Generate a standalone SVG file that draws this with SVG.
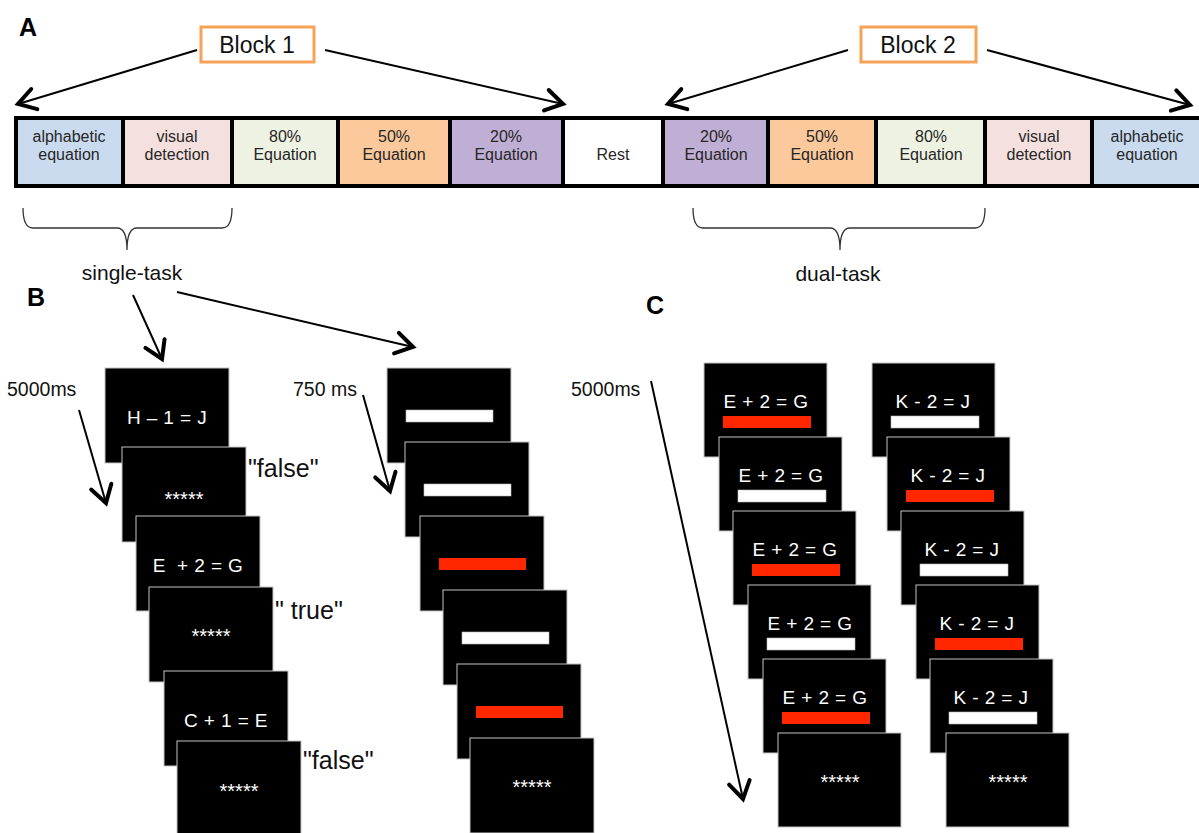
<svg xmlns="http://www.w3.org/2000/svg" width="1199" height="833" viewBox="0 0 1199 833">
  <style>
    text { font-family: "Liberation Sans", Arial, sans-serif; }
    .panel { font-size: 25px; font-weight: bold; fill: #000; }
    .cell { font-size: 16px; fill: #262626; text-anchor: middle; }
    .block { font-size: 23px; fill: #111; text-anchor: middle; }
    .lbl { font-size: 21px; fill: #111; text-anchor: middle; }
    .time { font-size: 19.5px; fill: #111; }
    .resp { font-size: 25px; fill: #111; }
    .scr { fill: #000; stroke: #c4c4c4; stroke-width: 1; }
    .eq { font-size: 19px; fill: #fff; text-anchor: middle; letter-spacing: 0.4px; }
    .stars { font-size: 20px; fill: #fff; text-anchor: middle; }
    .wbar { fill: #fff; stroke: #bbb; stroke-width: 0.6; }
    .rbar { fill: #ff2600; }
    .conn { stroke: #000; stroke-width: 2; fill: none; }
    .brace { stroke: #333; stroke-width: 1.3; fill: none; }
    .frame { stroke: #000; stroke-width: 4; fill: none; }
  </style>
  <defs>
    <marker id="arr" markerUnits="userSpaceOnUse" viewBox="-22 -15 26 30" refX="0" refY="0" markerWidth="26" markerHeight="30" orient="auto" overflow="visible">
      <path d="M-17,-10.5 L0,0 L-17,10.5" fill="none" stroke="#000" stroke-width="4" stroke-linecap="round" stroke-linejoin="miter"/>
    </marker>
  </defs>

  <rect width="1199" height="833" fill="#fff"/>

  <!-- panel letters -->
  <text class="panel" x="19" y="36">A</text>
  <text class="panel" x="27" y="306">B</text>
  <text class="panel" x="646" y="314">C</text>

  <!-- block labels -->
  <g id="block1">
    <rect x="201" y="27" width="113" height="35" fill="#fff" stroke="#f6a257" stroke-width="3"/>
    <text class="block" x="257" y="53">Block 1</text>
  </g>
  <g id="block2">
    <rect x="861" y="27" width="115" height="35" fill="#fff" stroke="#f6a257" stroke-width="3"/>
    <text class="block" x="918" y="53">Block 2</text>
  </g>

  <!-- session strip -->
  <g id="strip">
    <rect x="16" y="118" width="107" height="68" fill="#cadbf0"/>
    <rect x="123" y="118" width="109" height="68" fill="#f4e0df"/>
    <rect x="232" y="118" width="106" height="68" fill="#eef2e2"/>
    <rect x="338" y="118" width="112" height="68" fill="#fbc99b"/>
    <rect x="450" y="118" width="113" height="68" fill="#c0afd4"/>
    <rect x="563" y="118" width="100" height="68" fill="#fff"/>
    <rect x="663" y="118" width="105" height="68" fill="#c0afd4"/>
    <rect x="768" y="118" width="108" height="68" fill="#fbc99b"/>
    <rect x="876" y="118" width="109" height="68" fill="#eef2e2"/>
    <rect x="985" y="118" width="107" height="68" fill="#f4e0df"/>
    <rect x="1092" y="118" width="110" height="68" fill="#cadbf0"/>
    <rect class="frame" x="16" y="118" width="1200" height="68"/>
    <path class="frame" d="M123,118V186M232,118V186M338,118V186M450,118V186M563,118V186M663,118V186M768,118V186M876,118V186M985,118V186M1092,118V186"/>
  </g>
  <g id="cell-alpha-1"><text class="cell" x="69" y="142">alphabetic</text><text class="cell" x="69" y="160">equation</text></g>
  <g id="cell-visual-1"><text class="cell" x="177" y="142">visual</text><text class="cell" x="177" y="160">detection</text></g>
  <g id="cell-80-1"><text class="cell" x="285" y="142">80%</text><text class="cell" x="285" y="160">Equation</text></g>
  <g id="cell-50-1"><text class="cell" x="394" y="142">50%</text><text class="cell" x="394" y="160">Equation</text></g>
  <g id="cell-20-1"><text class="cell" x="506" y="142">20%</text><text class="cell" x="506" y="160">Equation</text></g>
  <g id="cell-rest"><text class="cell" x="613" y="160">Rest</text></g>
  <g id="cell-20-2"><text class="cell" x="716" y="142">20%</text><text class="cell" x="716" y="160">Equation</text></g>
  <g id="cell-50-2"><text class="cell" x="822" y="142">50%</text><text class="cell" x="822" y="160">Equation</text></g>
  <g id="cell-80-2"><text class="cell" x="931" y="142">80%</text><text class="cell" x="931" y="160">Equation</text></g>
  <g id="cell-visual-2"><text class="cell" x="1039" y="142">visual</text><text class="cell" x="1039" y="160">detection</text></g>
  <g id="cell-alpha-2"><text class="cell" x="1147" y="142">alphabetic</text><text class="cell" x="1147" y="160">equation</text></g>

  <!-- braces and their labels -->
  <g id="single-task">
    <path class="brace" d="M23,208 Q23,228 33,228 L117,228 Q127,228 127,250 Q127,228 137,228 L222,228 Q232,228 232,208"/>
    <text class="lbl" x="132" y="280">single-task</text>
  </g>
  <g id="dual-task">
    <path class="brace" d="M693,208 Q693,228 703,228 L830,228 Q840,228 840,250 Q840,228 850,228 L975,228 Q985,228 985,208"/>
    <text class="lbl" x="838" y="281">dual-task</text>
  </g>

  <!-- timing labels and responses -->
  <text class="time" x="7" y="396">5000ms</text>
  <text class="time" x="293" y="396">750 ms</text>
  <text class="time" x="571" y="396">5000ms</text>
  <text class="resp" x="248" y="477">"false"</text>
  <text class="resp" x="275" y="619">" true"</text>
  <text class="resp" x="303" y="769">"false"</text>

  <!-- B: equation sequence -->
  <g id="b-eq-1"><rect class="scr" x="105" y="368" width="124" height="95"/><text class="eq" x="167" y="424">H – 1 = J</text></g>
  <g id="b-eq-2"><rect class="scr" x="122" y="447" width="124" height="95"/><text class="stars" x="184" y="506">*****</text></g>
  <g id="b-eq-3"><rect class="scr" x="136" y="516" width="124" height="95"/><text class="eq" x="198" y="572" xml:space="preserve">E  + 2 = G</text></g>
  <g id="b-eq-4"><rect class="scr" x="149" y="587" width="124" height="95"/><text class="stars" x="211" y="643">*****</text></g>
  <g id="b-eq-5"><rect class="scr" x="164" y="671" width="124" height="95"/><text class="eq" x="226" y="727">C + 1 = E</text></g>
  <g id="b-eq-6"><rect class="scr" x="177" y="741" width="124" height="95"/><text class="stars" x="239" y="798">*****</text></g>

  <!-- B: visual detection sequence -->
  <g id="b-vd-1"><rect class="scr" x="387" y="368" width="124" height="95"/><rect class="wbar" x="406" y="410" width="87" height="12"/></g>
  <g id="b-vd-2"><rect class="scr" x="405" y="442" width="124" height="95"/><rect class="wbar" x="424" y="484" width="87" height="12"/></g>
  <g id="b-vd-3"><rect class="scr" x="420" y="516" width="124" height="95"/><rect class="rbar" x="439" y="558" width="87" height="12"/></g>
  <g id="b-vd-4"><rect class="scr" x="443" y="590" width="124" height="95"/><rect class="wbar" x="462" y="632" width="87" height="12"/></g>
  <g id="b-vd-5"><rect class="scr" x="457" y="664" width="124" height="95"/><rect class="rbar" x="476" y="706" width="87" height="12"/></g>
  <g id="b-vd-6"><rect class="scr" x="470" y="738" width="124" height="95"/><text class="stars" x="532" y="794">*****</text></g>

  <!-- C: dual-task, left column -->
  <g id="c-l-1"><rect class="scr" x="704" y="363" width="123" height="94"/><text class="eq" x="766" y="408">E + 2 = G</text><rect class="rbar" x="723" y="416" width="88" height="12"/></g>
  <g id="c-l-2"><rect class="scr" x="719" y="437" width="123" height="94"/><text class="eq" x="781" y="482">E + 2 = G</text><rect class="wbar" x="738" y="490" width="88" height="12"/></g>
  <g id="c-l-3"><rect class="scr" x="733" y="511" width="123" height="94"/><text class="eq" x="795" y="556">E + 2 = G</text><rect class="rbar" x="752" y="564" width="88" height="12"/></g>
  <g id="c-l-4"><rect class="scr" x="748" y="585" width="123" height="94"/><text class="eq" x="810" y="630">E + 2 = G</text><rect class="wbar" x="767" y="638" width="88" height="12"/></g>
  <g id="c-l-5"><rect class="scr" x="763" y="659" width="123" height="94"/><text class="eq" x="825" y="704">E + 2 = G</text><rect class="rbar" x="782" y="712" width="88" height="12"/></g>
  <g id="c-l-6"><rect class="scr" x="778" y="733" width="123" height="94"/><text class="stars" x="840" y="789">*****</text></g>

  <!-- C: dual-task, right column -->
  <g id="c-r-1"><rect class="scr" x="872" y="363" width="123" height="94"/><text class="eq" x="933" y="408">K - 2 = J</text><rect class="wbar" x="891" y="416" width="88" height="12"/></g>
  <g id="c-r-2"><rect class="scr" x="887" y="437" width="123" height="94"/><text class="eq" x="948" y="482">K - 2 = J</text><rect class="rbar" x="906" y="490" width="88" height="12"/></g>
  <g id="c-r-3"><rect class="scr" x="901" y="511" width="123" height="94"/><text class="eq" x="962" y="556">K - 2 = J</text><rect class="wbar" x="920" y="564" width="88" height="12"/></g>
  <g id="c-r-4"><rect class="scr" x="916" y="585" width="123" height="94"/><text class="eq" x="977" y="630">K - 2 = J</text><rect class="rbar" x="935" y="638" width="88" height="12"/></g>
  <g id="c-r-5"><rect class="scr" x="930" y="659" width="123" height="94"/><text class="eq" x="991" y="704">K - 2 = J</text><rect class="wbar" x="949" y="712" width="88" height="12"/></g>
  <g id="c-r-6"><rect class="scr" x="946" y="733" width="123" height="94"/><text class="stars" x="1008" y="789">*****</text></g>

  <!-- connectors -->
  <g id="connectors">
    <line class="conn" x1="197" y1="50" x2="18" y2="104" marker-end="url(#arr)"/>
    <line class="conn" x1="325" y1="50" x2="563" y2="104" marker-end="url(#arr)"/>
    <line class="conn" x1="848" y1="50" x2="668" y2="104" marker-end="url(#arr)"/>
    <line class="conn" x1="987" y1="50" x2="1190" y2="105" marker-end="url(#arr)"/>
    <line class="conn" x1="133" y1="295" x2="162" y2="359" marker-end="url(#arr)"/>
    <line class="conn" x1="177" y1="292" x2="413" y2="347" marker-end="url(#arr)"/>
    <line class="conn" x1="79" y1="410" x2="106" y2="503" marker-end="url(#arr)"/>
    <line class="conn" x1="363" y1="395" x2="390" y2="491" marker-end="url(#arr)"/>
    <line class="conn" x1="651" y1="381" x2="743" y2="799" marker-end="url(#arr)"/>
  </g>
</svg>
